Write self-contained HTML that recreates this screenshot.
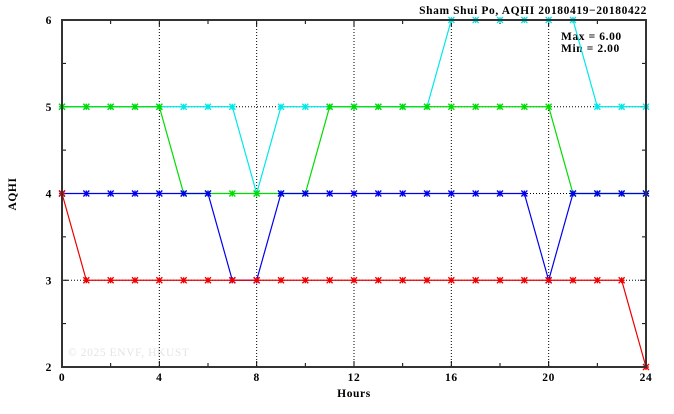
<!DOCTYPE html>
<html><head><meta charset="utf-8"><style>
body{margin:0;background:#fff;width:674px;height:409px;overflow:hidden}
text{font-family:"Liberation Serif",serif;font-size:11.5px;font-weight:bold;fill:#000;letter-spacing:0.6px}
</style></head><body>
<svg id="s" width="674" height="409" xmlns="http://www.w3.org/2000/svg">
<text x="647" y="14" text-anchor="end">Sham Shui Po, AQHI 20180419−20180422</text>
<text x="561" y="40">Max = 6.00</text>
<text x="561" y="52">Min = 2.00</text>
<text x="68" y="356" style="fill:#e4e4e4;font-weight:normal">© 2025  ENVF, HKUST</text>
<text x="354" y="397" text-anchor="middle">Hours</text>
<text x="16" y="194" text-anchor="middle" transform="rotate(-90 16 194)">AQHI</text>
<g id="g"></g>
</svg>
<script>
const X=h=>62+h*24.333, Y=v=>367-(v-2)*86.75;
let o='';
for(const h of [4,8,12,16,20])o+=`<line x1="${X(h)}" y1="20" x2="${X(h)}" y2="367" stroke="#000" stroke-dasharray="1,2"/>`;
for(const v of [3,4,5])o+=`<line x1="62" y1="${Y(v)}" x2="646" y2="${Y(v)}" stroke="#000" stroke-dasharray="1,2"/>`;
for(let h=0;h<=24;h+=2){const l=h%4?4:6;o+=`<line x1="${X(h)}" y1="367" x2="${X(h)}" y2="${367-l}" stroke="#000"/><line x1="${X(h)}" y1="20" x2="${X(h)}" y2="${20+l}" stroke="#000"/>`;if(h%4==0)o+=`<text x="${X(h)}" y="381" text-anchor="middle">${h}</text>`;}
for(let v=2;v<=6;v+=0.5){const l=v%1?4:6;const y=Y(v);o+=`<line x1="62" y1="${y}" x2="${62+l}" y2="${y}" stroke="#000"/><line x1="646" y1="${y}" x2="${646-l}" y2="${y}" stroke="#000"/>`;if(v%1==0)o+=`<text x="52" y="${y+4}" text-anchor="end">${v}</text>`;}
const S=[
['#00e8e8',[5,5,5,5,5,5,5,5,4,5,5,5,5,5,5,5,6,6,6,6,6,6,5,5,5]],
['#00dd00',[5,5,5,5,5,4,4,4,4,4,4,5,5,5,5,5,5,5,5,5,5,4,4,4,4]],
['#0000ee',[4,4,4,4,4,4,4,3,3,4,4,4,4,4,4,4,4,4,4,4,3,4,4,4,4]],
['#ee0000',[4,3,3,3,3,3,3,3,3,3,3,3,3,3,3,3,3,3,3,3,3,3,3,3,2]]];
for(const [c,d] of S){o+=`<polyline fill="none" stroke="${c}" stroke-width="1.2" points="${d.map((v,h)=>X(h)+','+Y(v)).join(' ')}"/>`;
for(let h=0;h<25;h++){const x=X(h),y=Y(d[h]);o+=`<path d="M${x-3} ${y-3}L${x+3} ${y+3}M${x-3} ${y+3}L${x+3} ${y-3}M${x-3} ${y}H${x+3}M${x} ${y-3}V${y+3}" stroke="${c}" stroke-width="1.3"/>`;}}
o+=`<rect x="62" y="20" width="584" height="347" fill="none" stroke="#333" stroke-width="2"/>`;
document.getElementById('g').innerHTML=o;
</script>
</body></html>
